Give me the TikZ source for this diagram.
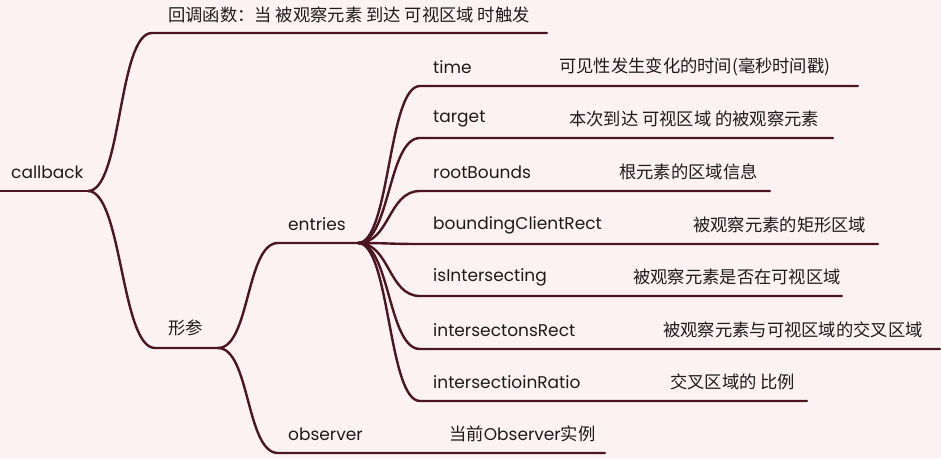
\documentclass[tikz,border=0pt]{standalone}
\usepackage{fontspec}
\setmainfont{Poppins}
\newfontfamily\cjk{Noto Sans CJK SC}
\definecolor{bgc}{HTML}{FCF2F4}
\definecolor{brc}{HTML}{4B1522}
\definecolor{txc}{HTML}{1E1A1C}
\tikzset{
  br/.style={draw=brc, line width=2.4pt, line cap=round},
  lbl/.style={anchor=west, inner sep=0pt, text=txc, font=\fontsize{17}{20}\selectfont},
  zh/.style={anchor=west, inner sep=0pt, text=txc, font=\fontsize{17.3}{20}\cjk},
}
\begin{document}
\begin{tikzpicture}[x=1pt,y=-1pt]
\fill[bgc] (0,0) rectangle (941,458);
\useasboundingbox (0,0) rectangle (941,458);
% root
\coordinate (cb0) at (0,191);
\coordinate (cb1) at (88,191);
\node[lbl] (cbt) at (11,172) {callback};
\draw[br] (cb0) -- (cb1);
% top
\coordinate (t0) at (152,33);
\coordinate (t1) at (547,33);
\node[zh] (tt) at (168,15) {回调函数：当 被观察元素 到达 可视区域 时触发};
\draw[br] (cb1) .. controls +(34,0) and +(-34,0) .. (t0) -- (t1);
% xingcan
\coordinate (x0) at (155,348);
\coordinate (x1) at (218,348);
\node[zh] (xt) at (168,328) {形参};
\draw[br] (cb1) .. controls +(34,0) and +(-34,0) .. (x0) -- (x1);
% entries
\coordinate (en0) at (278,243);
\coordinate (en1) at (358,243);
\node[lbl] (ent) at (288,224) {entries};
\draw[br] (x1) .. controls +(32,0) and +(-32,0) .. (en0) -- (en1);
% observer
\coordinate (ob0) at (278,453);
\coordinate (ob1) at (605,453);
\node[lbl] (obt) at (288,434) {observer};
\node[zh] (obd) at (449,434) {当前{\fontsize{17}{20}\selectfont\rmfamily Observer}实例};
\draw[br] (x1) .. controls +(32,0) and +(-32,0) .. (ob0) -- (ob1);
% children
\foreach \n/\y/\xe/\lab/\dx/\desc in {
  ca/86/858/time/559/{可见性发生变化的时间(毫秒时间戳)},
  cb/138/833/target/569/{本次到达 可视区域 的被观察元素},
  cc/191/770/rootBounds/619/{根元素的区域信息},
  cd/244/878/boundingClientRect/693/{被观察元素的矩形区域},
  ce/296/842/isIntersecting/633/{被观察元素是否在可视区域},
  cf/349/940/intersectonsRect/663/{被观察元素与可视区域的交叉区域},
  cg/401/807/intersectioinRatio/670/{交叉区域的 比例}} {
  \coordinate (\n0) at (420,\y);
  \coordinate (\n1) at (\xe,\y);
  \node[lbl] (\n t) at (433,\y-19) {\lab};
  \node[zh] (\n d) at (\dx,\y-19) {\desc};
  \draw[br] (en1) .. controls +(32,0) and +(-32,0) .. (\n0) -- (\n1);
}
\end{tikzpicture}
\end{document}
